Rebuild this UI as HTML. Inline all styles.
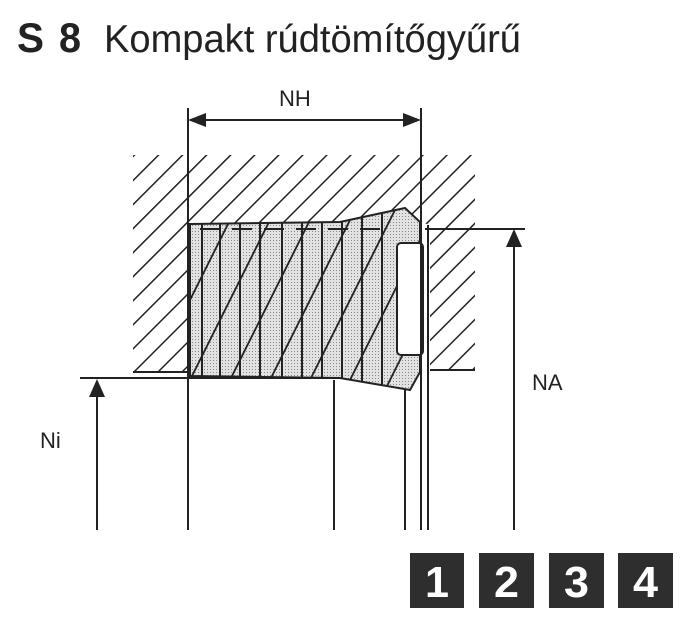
<!DOCTYPE html>
<html><head><meta charset="utf-8"><style>
html,body{margin:0;padding:0;background:#fff;width:688px;height:627px;overflow:hidden}
svg{display:block}
</style></head><body>
<svg width="688" height="627" viewBox="0 0 688 627" xmlns="http://www.w3.org/2000/svg">
<defs>
<pattern id="h" patternUnits="userSpaceOnUse" width="17" height="17" patternTransform="rotate(45)">
<line x1="0" y1="0" x2="0" y2="17" stroke="#222" stroke-width="3"/>
</pattern>
<pattern id="s" patternUnits="userSpaceOnUse" width="3" height="3">
<rect width="3" height="3" fill="#e2e2e2"/><rect width="1" height="1" fill="#888"/>
</pattern>
<clipPath id="seal"><path d="M190,224 L340,222 L405,208 L420,222 L420,372 L410,390 L340,378 L190,376 Z"/></clipPath>
</defs>
<g font-family="Liberation Sans, sans-serif" fill="#222">
<text x="17" y="52" font-weight="bold" font-size="42" textLength="27" lengthAdjust="spacingAndGlyphs">S</text>
<text x="59" y="52" font-weight="bold" font-size="42" textLength="22" lengthAdjust="spacingAndGlyphs">8</text>
<text x="104" y="52" font-size="39" textLength="417" lengthAdjust="spacingAndGlyphs">Kompakt rúdtömítőgyűrű</text>
</g>
<path d="M133,155 L475,155 L475,370 L430,370 L430,225 L420,222 L405,208 L340,222 L190,224 L190,372 L133,372 Z" fill="url(#h)"/>
<line x1="133" y1="372" x2="190" y2="372" stroke="#222" stroke-width="2"/>
<line x1="430" y1="370" x2="475" y2="370" stroke="#222" stroke-width="2"/>
<path d="M190,224 L340,222 L405,208 L420,222 L420,372 L410,390 L340,378 L190,376 Z" fill="url(#s)" stroke="#222" stroke-width="2"/>
<g clip-path="url(#seal)" stroke="#222" stroke-width="2">
<line x1="202" y1="220" x2="202" y2="390"/><line x1="220" y1="220" x2="220" y2="390"/>
<line x1="240" y1="220" x2="240" y2="390"/><line x1="260" y1="220" x2="260" y2="390"/>
<line x1="282" y1="220" x2="282" y2="390"/><line x1="302" y1="220" x2="302" y2="390"/>
<line x1="322" y1="220" x2="322" y2="390"/><line x1="342" y1="220" x2="342" y2="390"/>
<line x1="362" y1="210" x2="362" y2="390"/><line x1="382" y1="210" x2="382" y2="390"/>
<path d="M120,520 L330,100 M160,520 L370,100 M200,520 L410,100 M240,520 L450,100 M280,520 L490,100 M320,520 L530,100 M360,520 L570,100 M80,520 L290,100" stroke-width="1.8"/>
</g>
<rect x="397" y="243" width="26" height="112" rx="4" fill="#fff" stroke="#222" stroke-width="2"/>
<line x1="200" y1="229" x2="380" y2="229" stroke="#222" stroke-width="2" stroke-dasharray="20,12"/>
<g stroke="#222" stroke-width="2">
<line x1="188" y1="108" x2="188" y2="530"/>
<line x1="421" y1="108" x2="421" y2="530"/>
<line x1="405" y1="390" x2="405" y2="530"/>
<line x1="428" y1="225" x2="428" y2="530"/>
<line x1="334" y1="380" x2="334" y2="530"/>
<line x1="425" y1="229" x2="525" y2="229"/>
<line x1="80" y1="378" x2="340" y2="378"/>
<line x1="190" y1="120" x2="419" y2="120"/>
<line x1="514" y1="235" x2="514" y2="530"/>
<line x1="97" y1="385" x2="97" y2="530"/>
</g>
<polygon points="188,120 206,113 206,127" fill="#222"/>
<polygon points="421,120 403,113 403,127" fill="#222"/>
<polygon points="514,229 506,247 522,247" fill="#222"/>
<polygon points="97,379 89,397 105,397" fill="#222"/>
<text x="279" y="106" font-family="Liberation Sans, sans-serif" font-size="22" fill="#222">NH</text>
<text x="532" y="390" font-family="Liberation Sans, sans-serif" font-size="22" fill="#222">NA</text>
<text x="40" y="448" font-family="Liberation Sans, sans-serif" font-size="22" fill="#222">Ni</text>
<g fill="#2e2e2e">
<rect x="410" y="553" width="54" height="55"/><rect x="479" y="553" width="55" height="55"/>
<rect x="549" y="553" width="55" height="55"/><rect x="618" y="553" width="55" height="55"/>
</g>
<g font-family="Liberation Sans, sans-serif" font-weight="bold" font-size="44" fill="#fff">
<text x="425" y="597" textLength="24" lengthAdjust="spacingAndGlyphs">1</text>
<text x="494" y="597" textLength="25" lengthAdjust="spacingAndGlyphs">2</text>
<text x="564" y="597" textLength="25" lengthAdjust="spacingAndGlyphs">3</text>
<text x="633" y="597" textLength="25" lengthAdjust="spacingAndGlyphs">4</text>
</g>
</svg>
</body></html>
